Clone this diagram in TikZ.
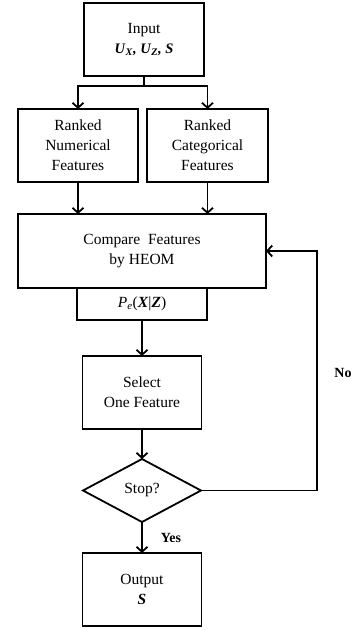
\documentclass[tikz,border=0pt]{standalone}
\usepackage{fontspec}
\setmainfont{Liberation Serif}
\usepackage{tikz}
\usetikzlibrary{shapes.geometric, arrows.meta, positioning}
\newcommand{\bvar}[1]{\textbf{\textit{#1}}}

\begin{document}
\begin{tikzpicture}[
    x=1pt, y=1pt,
    node distance=32pt,
    box/.style={draw,line width=1.8pt,minimum height=73pt,minimum width=120pt,align=center,inner sep=0pt,outer sep=0pt,font=\fontsize{15.5}{20}\selectfont},
    decision/.style={draw,diamond,line width=1.8pt,aspect=1.87,minimum width=118pt,minimum height=63pt,inner sep=0pt,outer sep=0pt,font=\fontsize{15.5}{20}\selectfont},
    arr/.style={-{Straight Barb[length=5pt,width=11pt]},line width=1.8pt},
    lbl/.style={inner sep=0pt,font=\fontsize{14}{16}\selectfont\bfseries},
  ]
    \useasboundingbox (0,0) rectangle (357,-630);
    \node[box] (input) at (144,-39.5) {Input\\{\fontsize{14.5}{20}\selectfont\bvar{U}\textsubscript{\bvar{X}}\bvar{, U}\textsubscript{\bvar{Z}}\bvar{, S}}};
    \node[box] (rnum) at (78,-145.5) {Ranked\\Numerical\\Features};
    \node[box, minimum width=121pt] (rcat) at (207.5,-145.5) {Ranked\\Categorical\\Features};
    \node[box, minimum width=248pt, minimum height=74pt] (cmp) at (142,-251) {Compare~ Features\\by HEOM};
    \node[box, below=0pt of cmp, minimum width=130pt, minimum height=32pt] (pe) {\textit{P}\textsubscript{\textit{e}}(\bvar{X}|\bvar{Z})};
    \node[box, below=36pt of pe, minimum width=119pt] (sel) {Select\\One Feature};
    \node[decision, below=30pt of sel] (stop) {Stop?};
    \node[box, below=31pt of stop, minimum width=119pt] (out) {Output\\\bvar{S}};
    \coordinate (loop) at (317,-251);
    \node[lbl] (no) at (343,-373) {No};

    \draw[line width=1.8pt] (input.south) -- ++(0,-10) coordinate (split);
    \draw[arr] (split) -| (rnum);
    \draw[arr] (split) -| (rcat);
    \draw[arr] (rnum) -- (rnum |- cmp.north);
    \draw[arr] (rcat) -- (rcat |- cmp.north);
    \draw[arr] (pe) -- (sel);
    \draw[arr] (sel) -- (stop);
    \draw[arr] (stop) -- node[lbl, right=18pt] (yes) {Yes} (out);
    \draw[arr] (stop.east) -| (loop) -- (cmp.east);
  \end{tikzpicture}
\end{document}
